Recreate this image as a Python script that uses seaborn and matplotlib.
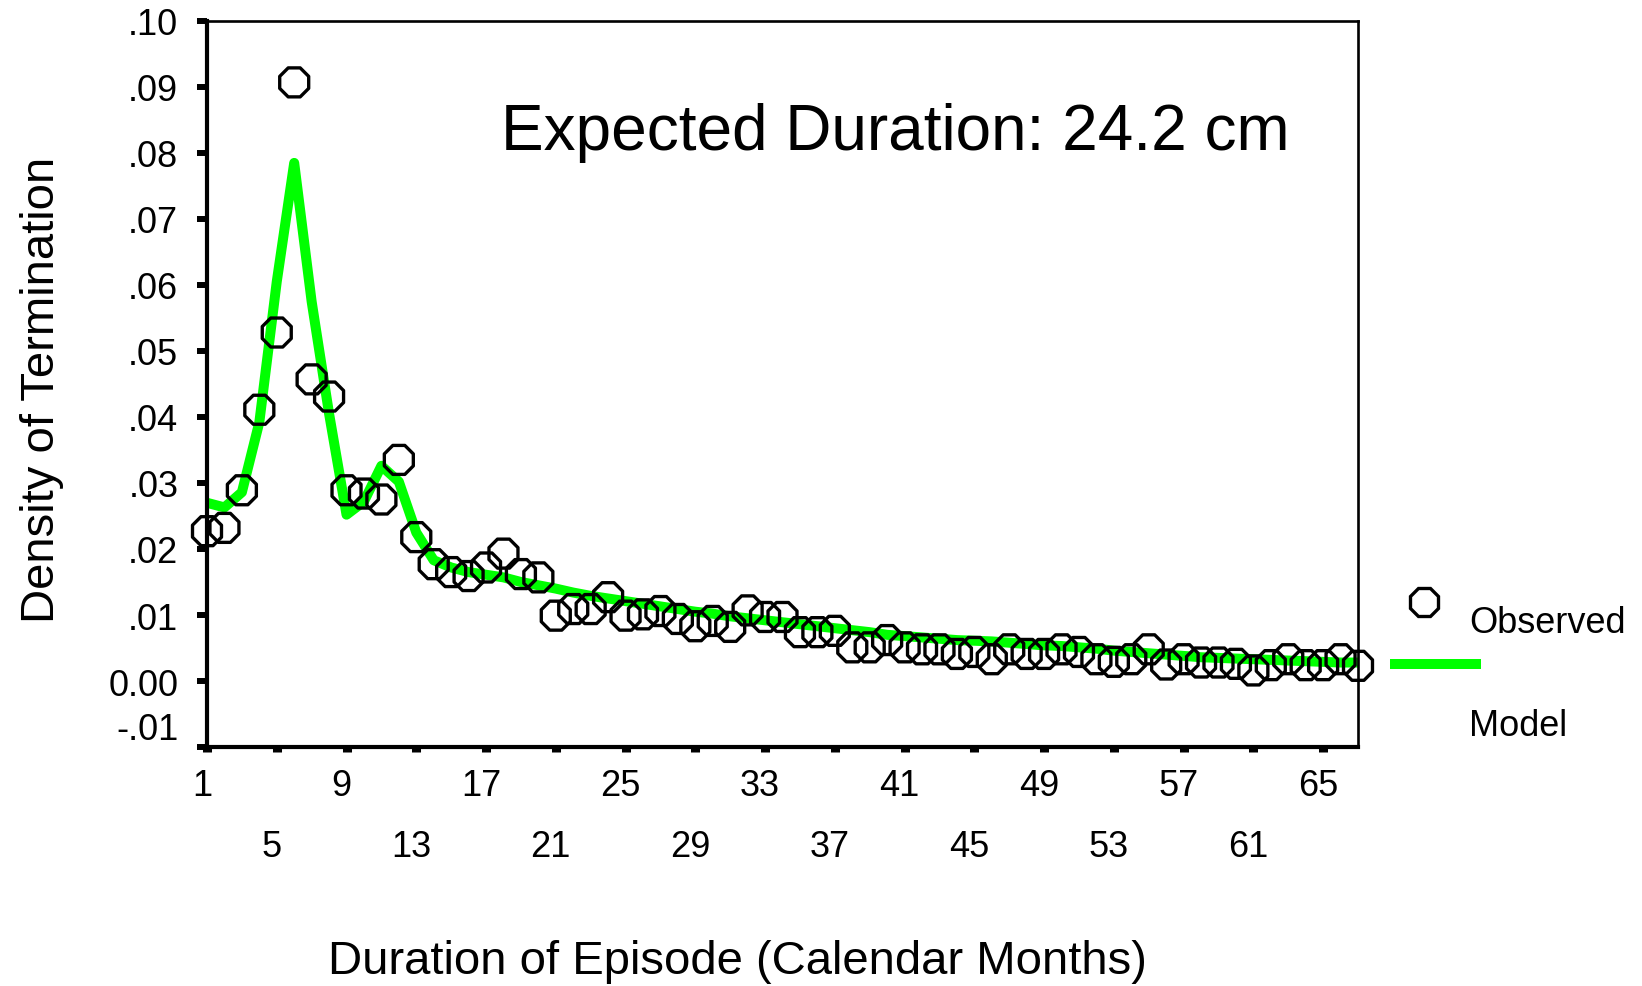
import numpy as np
import pandas as pd
import matplotlib
matplotlib.use("Agg")
import matplotlib.pyplot as plt
from matplotlib.lines import Line2D
from matplotlib.ticker import FixedLocator
from matplotlib.transforms import ScaledTranslation
import seaborn as sns

# Episode duration in calendar months
months = list(range(1, 68))

# Observed density of termination for each month
observed = [
    0.0227, 0.0232, 0.0289, 0.0411, 0.0528, 0.0907, 0.0457, 0.0431, 0.0289, 0.0284,
    0.0275, 0.0335, 0.0218, 0.0177, 0.0165, 0.0159, 0.0172, 0.0193, 0.0162, 0.0157,
    0.0099, 0.0109, 0.0109, 0.0127, 0.0099, 0.0101, 0.0106, 0.0094, 0.0083, 0.0091,
    0.0082, 0.0107, 0.0097, 0.0097, 0.0074, 0.0074, 0.0076, 0.0051, 0.0051, 0.0062,
    0.0051, 0.0048, 0.0048, 0.0041, 0.0044, 0.0033, 0.0048, 0.0041, 0.0041, 0.0048,
    0.0044, 0.0033, 0.0029, 0.0033, 0.0048, 0.0025, 0.0033, 0.0028, 0.0028, 0.0026,
    0.0016, 0.0024, 0.0033, 0.0024, 0.0024, 0.0033, 0.0023,
]

# Fitted model density for each month
model = [
    0.0270, 0.0263, 0.0286, 0.0392, 0.0605, 0.0785, 0.0575, 0.0405, 0.0252, 0.0272,
    0.0326, 0.0302, 0.0225, 0.0183, 0.0172, 0.0165, 0.0161, 0.0157, 0.0150, 0.0145,
    0.0140, 0.0134, 0.0129, 0.0125, 0.0121, 0.0117, 0.0113, 0.0109, 0.0105, 0.0102,
    0.0098, 0.0095, 0.0092, 0.0089, 0.0086, 0.0083, 0.0080, 0.0077, 0.0074, 0.0070,
    0.0068, 0.0066, 0.0064, 0.0062, 0.0061, 0.0060, 0.0058, 0.0056, 0.0054, 0.0053,
    0.0051, 0.0049, 0.0046, 0.0044, 0.0042, 0.0040, 0.0038, 0.0036, 0.0035, 0.0034,
    0.0033, 0.0032, 0.0031, 0.0030, 0.0029, 0.0028, 0.0028,
]

# Axis ticks
xticks_upper = [1, 9, 17, 25, 33, 41, 49, 57, 65]
xticks_lower = [5, 13, 21, 29, 37, 45, 53, 61]
yticks = [-0.01, 0.00, 0.01, 0.02, 0.03, 0.04, 0.05, 0.06, 0.07, 0.08, 0.09, 0.10]
ytick_labels = ["-.01", "0.00", ".01", ".02", ".03", ".04", ".05", ".06",
                ".07", ".08", ".09", ".10"]

df = pd.DataFrame({"month": months, "observed": observed, "model": model})

sns.set_theme(style="white")
plt.rcParams["font.family"] = ["Liberation Sans", "DejaVu Sans"]

W, H = 1642, 987
fig = plt.figure(figsize=(W / 100, H / 100), dpi=100)
ax = fig.add_axes([207 / W, 1 - 748 / H, (1358 - 207) / W, (748 - 22) / H])

GREEN = "#00ff00"

sns.lineplot(data=df, x="month", y="model", ax=ax, color=GREEN, linewidth=7.2,
             solid_joinstyle="round", legend=False, zorder=2)
sns.scatterplot(data=df, x="month", y="observed", ax=ax, marker="8", s=510,
                facecolor="none", edgecolor="black", linewidth=2.4,
                legend=False, zorder=3, clip_on=False)

ax.set_xlim(1, 67)
ax.set_ylim(-0.01, 0.10)

# Spines
for side in ["left", "bottom"]:
    ax.spines[side].set_linewidth(3.0)
    ax.spines[side].set_color("black")
for side in ["top", "right"]:
    ax.spines[side].set_linewidth(1.9)
    ax.spines[side].set_color("black")

# Y axis ticks
ax.set_yticks(yticks)
ax.set_yticklabels(ytick_labels)
ax.tick_params(axis="y", which="major", direction="out", length=7.2, width=4.3,
               color="black", left=True, labelsize=26, pad=13.5, labelcolor="black")
ax.get_yticklabels()[0].set_va("bottom")

# X axis ticks in two staggered rows
ax.xaxis.set_major_locator(FixedLocator(xticks_upper))
ax.xaxis.set_minor_locator(FixedLocator(xticks_lower))
ax.set_xticklabels([str(v) for v in xticks_upper])
ax.set_xticklabels([str(v) for v in xticks_lower], minor=True)
ax.tick_params(axis="x", which="both", direction="out", length=3.6, width=6.5,
               color="black", bottom=True, labelsize=26, labelcolor="black")
ax.tick_params(axis="x", which="major", pad=11.5)
ax.tick_params(axis="x", which="minor", pad=55.5)
shift = ScaledTranslation(-5 / 100, 0, fig.dpi_scale_trans)
for lbl in ax.get_xticklabels(which="both"):
    lbl.set_transform(lbl.get_transform() + shift)

ax.set_xlabel("Duration of Episode (Calendar Months)", fontsize=34, color="black")
ax.set_ylabel("Density of Termination", fontsize=34, color="black")
ax.xaxis.set_label_coords(0.461, -0.265)
ax.yaxis.set_label_coords(-0.1245, 0.493)

ax.text(0.598, 0.847, "Expected Duration: 24.2 cm", transform=ax.transAxes,
        ha="center", va="center", fontsize=46, color="black")

# Legend placed to the right of the plotting area
def fx(px):
    return px / W

def fy(py):
    return 1 - py / H

fig.add_artist(Line2D([fx(1424)], [fy(603)], marker="8", markersize=22.6,
                      markerfacecolor="none", markeredgecolor="black",
                      markeredgewidth=2.4, linestyle="none",
                      transform=fig.transFigure))
fig.add_artist(Line2D([fx(1390), fx(1481)], [fy(665), fy(665)], color=GREEN,
                      linewidth=7.2, solid_capstyle="butt",
                      transform=fig.transFigure))
fig.text(fx(1469), fy(624), "Observed", ha="left", va="center", fontsize=26,
         color="black")
fig.text(fx(1469), fy(727), "Model", ha="left", va="center", fontsize=26,
         color="black")

fig.savefig("out.png", dpi=100, facecolor="white")
